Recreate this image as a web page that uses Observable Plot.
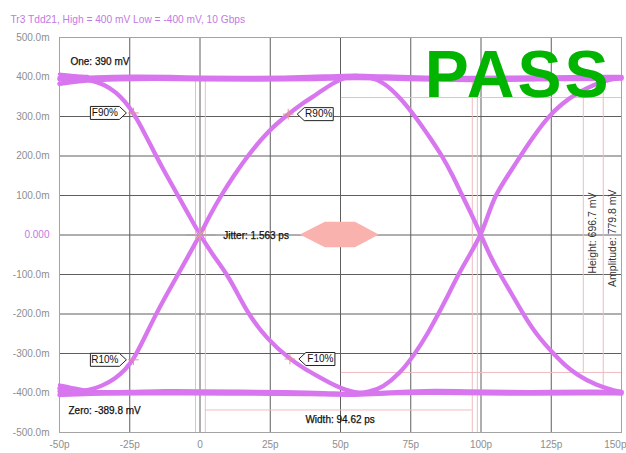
<!DOCTYPE html>
<html><head><meta charset="utf-8">
<script src="https://cdn.jsdelivr.net/npm/d3@7"></script>
<script src="https://cdn.jsdelivr.net/npm/@observablehq/plot@0.6"></script>
<style>
body{margin:0;background:#fff}
#chart{width:626px;height:453px}
</style>
</head><body><div id="chart"></div>
<script>
// ---------- data ----------
const title = "Tr3 Tdd21, High = 400 mV Low = -400 mV, 10 Gbps";
const xTicks = [-50, -25, 0, 25, 50, 75, 100, 125, 150];
const xTickLabels = ["-50p", "-25p", "0", "25p", "50p", "75p", "100p", "125p", "150p"];
const yTicks = [500, 400, 300, 200, 100, 0, -100, -200, -300, -400, -500];
const yTickLabels = ["500.0m", "400.0m", "300.0m", "200.0m", "100.0m", "0.000", "-100.0m", "-200.0m", "-300.0m", "-400.0m", "-500.0m"];

// traces: [time (ps), level (mV)]
const topBandA = [[-50,394],[-45,397],[-38,399],[-25,401],[-10,400],[0,398],[15,397],[30,398],[45,401],[55,404],[65,401],[80,398],[95,397],[110,398],[125,399],[140,400],[150,400]];
const topBandB = [[-50,383],[-42,391],[-30,395],[-15,396],[0,394],[20,393],[40,395],[55,398],[70,396],[90,392],[110,393],[130,395],[150,396]];
const topBandC = [[-50,407],[-46,404],[-40,401]];
const bottomBandA = [[-50,-388],[-45,-394],[-38,-399],[-25,-398],[-12,-395],[0,-396],[15,-397],[30,-398],[45,-400],[55,-404],[65,-400],[80,-394],[95,-396],[110,-398],[125,-398],[140,-396],[150,-398]];
const bottomBandB = [[-50,-405],[-44,-403],[-35,-401],[-20,-401],[-5,-400],[10,-401],[25,-402],[40,-402],[55,-406],[70,-399],[85,-399],[100,-401],[120,-402],[135,-400],[150,-401]];
const bottomBandC = [[-50,-380],[-46,-386],[-40,-394]];
const fallRiseTrace = [[-50,398],[-44,397],[-39,393],[-34,381],[-30,362],[-26.5,337],[-23.7,309],[-20,262],[-16,205],[-12,152],[-8,102],[-4,51],[0,0],[4.5,-50],[9.7,-100],[13.5,-150],[17.2,-200],[24,-265],[32,-314],[37,-338],[42,-358],[48,-382],[55,-401],[60,-398],[65,-386],[71,-352],[76.6,-300],[81,-250],[84.8,-200],[88.5,-150],[91.9,-100],[96,-50],[100,0],[102.5,50],[105,100],[109.5,150],[114,200],[119,253],[124,300],[129,334],[134,358],[140,381],[146,394],[150,398]];
const riseFallTrace = [[-50,-396],[-44,-397],[-39.7,-393],[-35,-383],[-30,-363],[-26.5,-340],[-23.7,-316],[-20,-264],[-16,-205],[-12,-152],[-8,-102],[-4,-51],[0,0],[3.5,50],[7.5,100],[12,150],[16.9,200],[24,262],[31.4,306],[37,336],[42,358],[47,384],[52,400],[55,404],[60,400],[65,389],[71,350],[76.6,300],[81.5,250],[86.2,200],[90,150],[93.3,100],[96.8,50],[100,0],[103,-50],[106.8,-100],[111,-150],[115,-200],[120,-255],[125.7,-300],[130,-331],[134,-353],[141,-381],[148,-395],[150,-397]];

// measurement markers
const markerNames = ["F90%", "R10%", "R90%", "F10%"];
const markerTimes = [-23.7, -23.7, 31.4, 32];
const markerLevels = [309, -316, 306, -314];
const markerSides = ["right", "right", "left", "left"];

// eye mask hexagon
const maskTimes = [35.7, 44.6, 55.3, 63.8];
const maskHalfHeights = [0, 32, 32, 0];

// cursors (mV / ps)
const heightLevels = [348, -348];       // Height: 696.7 mV
const heightCursorFrom = 50.3;
const heightCursorTime = 136.4;
const amplitudeLevels = [390, -389.8];  // Amplitude: 779.8 mV
const amplitudeCursorTime = 143.5;
const widthLevel = -443;                // Width: 94.62 ps
const widthEdges = [1.9, 96.9];
const crossingEdges = [-1.6, 98.7];
const crossings = [0];

// annotation texts: [text, time, level]
const notes = [
  ["One: 390 mV", -46.1, 438],
  ["Zero: -389.8 mV", -46.8, -446],
  ["Jitter: 1.563 ps", 8.3, -2],
  ["Width: 94.62 ps", 37.5, -468]
];
const rotatedNotes = [
  ["Height: 696.7 mV", 139.6, 5],
  ["Amplitude: 779.8 mV", 146.8, -8]
];
const jitterLeader = [-5, 5.7];
const verdict = "PASS";

// ---------- styles ----------
const traceColor = "#d776ee";
const cursorColor = "#eebcc0";
const gridColor = "#5e5e5e";
const tickColor = "#8e8e8e";
const violet = "#c27ae2";

const markers = markerNames.map((n, i) => ({name: n, t: markerTimes[i], v: markerLevels[i], side: markerSides[i]}));
const mask = maskTimes.map((t, i) => ({t, lo: -maskHalfHeights[i], hi: maskHalfHeights[i]}));

const thinPlus = {draw(ctx, size) { const r = Math.sqrt(size) / 2; ctx.moveTo(-r, 0); ctx.lineTo(r, 0); ctx.moveTo(0, -r); ctx.lineTo(0, r); }};
const star = {draw(ctx, size) { const r = Math.sqrt(size) / 2; const q = r * 0.7;
  ctx.moveTo(-r, 0); ctx.lineTo(r, 0); ctx.moveTo(0, -r); ctx.lineTo(0, r);
  ctx.moveTo(-q, -q); ctx.lineTo(q, q); ctx.moveTo(-q, q); ctx.lineTo(q, -q); }};
// callout boxes (box left of point, pointing right / box right of point, pointing left)
const calloutRight = {draw(ctx) { ctx.moveTo(-7, 0); ctx.lineTo(-14, -6.5); ctx.lineTo(-43, -6.5); ctx.lineTo(-43, 6.5); ctx.lineTo(-14, 6.5); ctx.closePath(); }};
const calloutLeft = {draw(ctx) { ctx.moveTo(9, 0); ctx.lineTo(16, -6.5); ctx.lineTo(45, -6.5); ctx.lineTo(45, 6.5); ctx.lineTo(16, 6.5); ctx.closePath(); }};

const trace = (data, w) => Plot.line(data, {x: d => d[0], y: d => d[1], stroke: traceColor, strokeWidth: w, curve: "basis", strokeLinecap: "round", strokeLinejoin: "round"});

const chart = Plot.plot({
  width: 626,
  height: 453,
  marginLeft: 59,
  marginRight: 5,
  marginTop: 37,
  marginBottom: 21,
  style: {fontFamily: "'Liberation Sans', Arial, sans-serif", fontSize: "10px", background: "#fff", overflow: "visible"},
  x: {domain: [-50, 150], axis: null},
  y: {domain: [-500, 500], axis: null},
  marks: [
    // grid
    Plot.ruleX(xTicks.filter(t => t > -50 && t < 150), {stroke: gridColor, strokeWidth: 1}),
    Plot.ruleY(yTicks.filter(v => v > -500 && v < 500), {stroke: gridColor, strokeWidth: 1}),
    Plot.frame({stroke: "#a4a4a4"}),
    // cursors
    Plot.ruleY(heightLevels, {y: d => d, x1: heightCursorFrom, x2: 150, stroke: cursorColor}),
    Plot.ruleX([heightCursorTime], {x: d => d, y1: heightLevels[1], y2: heightLevels[0], stroke: cursorColor}),
    Plot.ruleX([amplitudeCursorTime], {x: d => d, y1: amplitudeLevels[1], y2: amplitudeLevels[0], stroke: cursorColor}),
    Plot.ruleY([widthLevel], {y: d => d, x1: widthEdges[0], x2: widthEdges[1], stroke: cursorColor}),
    Plot.ruleX(widthEdges.concat(crossingEdges), {x: d => d, y1: -500, y2: amplitudeLevels[0], stroke: cursorColor}),
    // mask
    Plot.areaY(mask, {x: "t", y1: "lo", y2: "hi", fill: "#f9b2ae"}),
    // traces
    trace(topBandA, 4.5), trace(topBandB, 4.5), trace(topBandC, 3.5),
    trace(bottomBandA, 4.5), trace(bottomBandB, 4.5), trace(bottomBandC, 3.5),
    trace(fallRiseTrace, 4.3), trace(riseFallTrace, 4.3),
    // markers
    Plot.dot(markers, {x: "t", y: "v", symbol: thinPlus, r: 6, stroke: "#e89090", strokeWidth: 1}),
    Plot.dot(crossings, {x: d => d, y: () => 0, symbol: star, r: 8, stroke: "#e8a0a0", strokeWidth: 1}),
    Plot.ruleY([0], {y: d => d, x1: jitterLeader[0], x2: jitterLeader[1], stroke: "#a0a0a0"}),
    Plot.dot(markers.filter(d => d.side === "right"), {x: "t", y: "v", symbol: calloutRight, fill: "#fff", stroke: "#222", strokeWidth: 1}),
    Plot.dot(markers.filter(d => d.side === "left"), {x: "t", y: "v", symbol: calloutLeft, fill: "#fff", stroke: "#222", strokeWidth: 1}),
    Plot.text(markers.filter(d => d.side === "right"), {x: "t", y: "v", text: "name", dx: -28.5, fill: "#111", fontSize: 10}),
    Plot.text(markers.filter(d => d.side === "left"), {x: "t", y: "v", text: "name", dx: 30.5, fill: "#111", fontSize: 10}),
    // annotations
    Plot.text(notes, {x: d => d[1], y: d => d[2], text: d => d[0], textAnchor: "start", fill: "#111", stroke: "#111", strokeWidth: 0.25, fontSize: 10}),
    Plot.text(rotatedNotes, {x: d => d[1], y: d => d[2], text: d => d[0], rotate: -90, fill: "#333", fontSize: 10.5}),
    // tick labels
    Plot.text(yTicks.filter(v => v !== 0), {y: d => d, text: d => yTickLabels[yTicks.indexOf(d)], frameAnchor: "left", dx: -10, textAnchor: "end", fill: tickColor}),
    Plot.text(yTicks.filter(v => v === 0), {y: d => d, text: d => yTickLabels[yTicks.indexOf(d)], frameAnchor: "left", dx: -10, textAnchor: "end", fill: violet}),
    Plot.text(xTicks.slice(0, -1), {x: d => d, text: d => xTickLabels[xTicks.indexOf(d)], frameAnchor: "bottom", dy: 15, fill: tickColor}),
    Plot.text(xTicks.slice(-1), {x: d => d, text: d => xTickLabels[xTicks.indexOf(d)], frameAnchor: "bottom", dy: 15, dx: 5, textAnchor: "end", fill: tickColor}),
    // title
    Plot.text([title], {frameAnchor: "top-left", dx: -49, dy: -22, textAnchor: "start", fill: violet, fontSize: 10.2}),
    // verdict
    Plot.text([verdict], {frameAnchor: "top-right", dx: -10, dy: 13, lineAnchor: "top", textAnchor: "end", fontSize: 66, fontWeight: "bold", fill: "#00b400"})
  ]
});
d3.select(chart).selectAll("text").filter(function() { return this.textContent === "PASS"; }).attr("letter-spacing", "3px");
document.getElementById("chart").append(chart);
</script>
</body></html>
